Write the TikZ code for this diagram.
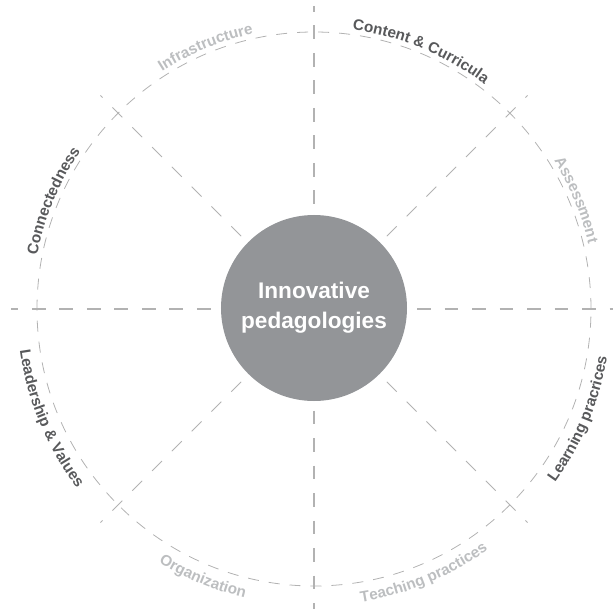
\documentclass[tikz,border=0pt]{standalone}
\usepackage{fontspec}
\setmainfont{Liberation Sans}
\usetikzlibrary{decorations.text}
\definecolor{linegray}{RGB}{178,178,178}
\definecolor{coregray}{RGB}{147,149,152}
\definecolor{darklab}{RGB}{88,89,91}
\definecolor{lightlab}{RGB}{188,190,192}
\newcommand{\labfont}{\bfseries\fontsize{15.3}{18}\selectfont}
\begin{document}
\begin{tikzpicture}[x=1pt,y=1pt,
  axisline/.style={draw=linegray, line width=1.3pt, dash pattern=on 13.7pt off 13.8pt},
  spokeline/.style={draw=linegray, line width=0.8pt, dash pattern=on 14pt off 14pt, dash phase=9pt},
  ringline/.style={draw=linegray, line width=0.8pt, dash pattern=on 11pt off 10pt},
]
\useasboundingbox (-314,-304) rectangle (299,309);
% axis end points
\coordinate (top) at (0,303);
\coordinate (bot) at (0,-300);
\coordinate (lft) at (-303,0);
\coordinate (rgt) at (299,0);
\coordinate (ne) at (45:302);
\coordinate (nw) at (135:302);
\coordinate (sw) at (225:302);
\coordinate (se) at (315:302);
% centre node
\node[circle, minimum size=186pt, inner sep=0pt] (core) at (0,0) {};
% axes
\draw[axisline, dash phase=6.5pt] (lft) -- (rgt);
\draw[axisline, dash phase=8pt] (top) -- (bot);
% spokes
\draw[spokeline] (core.center) -- (ne);
\draw[spokeline] (core.center) -- (nw);
\draw[spokeline] (core.center) -- (sw);
\draw[spokeline] (core.center) -- (se);
% ring
\node[circle, ringline, minimum size=554pt, inner sep=0pt] (ring) at (0,0) {};
% centre disc
\node[circle, fill=coregray, minimum size=186pt, inner sep=0pt, text=white, align=center,
      font=\bfseries\fontsize{22.6}{30}\selectfont] (corelabel) at ([yshift=1pt]core.center) {Innovative\\pedagologies};
% labels, upper half (clockwise)
\path[decorate, decoration={text along path, text align=center, text color=lightlab,
      text={|\labfont|Infrastructure}}] (135:282) arc[start angle=135, end angle=90, radius=282];
\path[decorate, decoration={text along path, text align=center, text color=darklab,
      text={|\labfont|Content {\&} Curricula}}] (90:282) arc[start angle=90, end angle=45, radius=282];
\path[decorate, decoration={text along path, text align=center, text color=lightlab,
      text={|\labfont|Assessment}}] (45:282) arc[start angle=45, end angle=0, radius=282];
\path[decorate, decoration={text along path, text align=center, text color=darklab,
      text={|\labfont|Connectedness}}] (180:282) arc[start angle=180, end angle=135, radius=282];
% labels, lower half (counter-clockwise)
\path[decorate, decoration={text along path, text align=center, text color=darklab,
      text={|\labfont|Learning pracrices}}] (-45:297) arc[start angle=-45, end angle=0, radius=297];
\path[decorate, decoration={text along path, text align=center, text color=lightlab,
      text={|\labfont|Teaching practices}}] (-90:297) arc[start angle=-90, end angle=-45, radius=297];
\path[decorate, decoration={text along path, text align=center, text color=lightlab,
      text={|\labfont|Organization}}] (-135:297) arc[start angle=-135, end angle=-90, radius=297];
\path[decorate, decoration={text along path, text align=center, text color=darklab,
      text={|\labfont|Leadership {\&} Values}}] (-180:297) arc[start angle=-180, end angle=-135, radius=297];
\end{tikzpicture}
\end{document}
